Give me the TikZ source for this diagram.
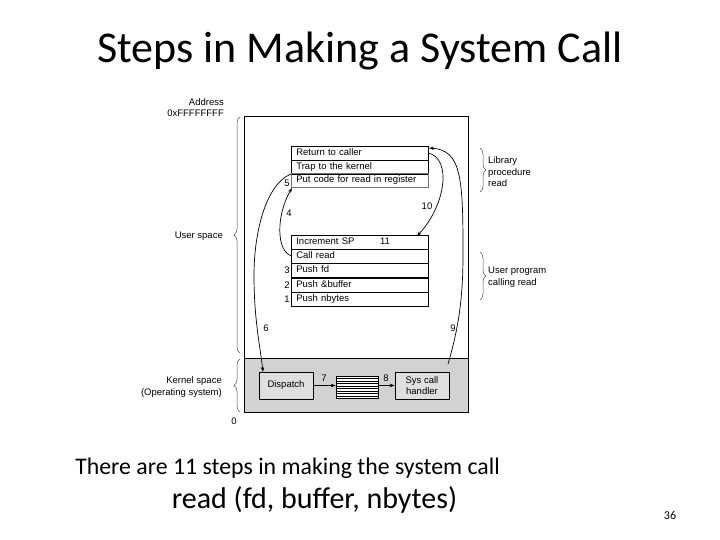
\documentclass[tikz,border=0pt]{standalone}
\usepackage{fontspec}
\setmainfont{Carlito}
\newfontfamily\dfont{Liberation Sans}
\usetikzlibrary{arrows.meta,decorations.pathreplacing}
\begin{document}
\begin{tikzpicture}[x=1pt,y=-1pt,
  dtext/.style={font=\dfont\fontsize{9.5}{11.5}\selectfont, inner sep=0pt},
  row/.style={dtext, draw, line width=0.7pt, anchor=north west, minimum height=14pt,
    text width=127pt, inner xsep=5pt, inner ysep=0pt, text height=7pt, text depth=2pt, align=left},
  kbox/.style={dtext, draw, line width=0.7pt, fill=gray!25, minimum width=54pt, minimum height=27pt, align=center},
  arr/.style={line width=0.7pt, -{Stealth[length=5pt,width=3.5pt]}},
  brace/.style={draw=black!70, line width=0.5pt, decorate, decoration={brace, amplitude=6pt}}
]
\useasboundingbox (0,0) rectangle (720,540);
% title
\node[font=\fontsize{44}{50}\selectfont, anchor=base] (title) at (360,63) {Steps in Making a System Call};
% memory box
\fill[gray!35] (244,358) rectangle (468,412);
\draw[line width=0.8pt] (244,116) rectangle (468,412);
\draw[line width=0.8pt] (244,358) -- (468,358);
% library rows
\node[row] (r1) at (291,146) {Return to caller};
\node[row] (r2) at (291,160) {Trap to the kernel};
\node[row, draw=black!55] (r3) at (291,173) {Put code for read in register};
% user program rows
\node[row] (u1) at (291,235) {Increment SP};
\node[row] (u2) at (291,249) {Call read};
\node[row] (u3) at (291,263) {Push fd};
\node[row] (u4) at (291,277.5) {Push \&buffer};
\node[row] (u5) at (291,292) {Push nbytes};
% kernel boxes
\node[kbox] (disp) at (286,385.5) {Dispatch};
\node[kbox] (sys) at (422,385.5) {Sys call\\handler};
\node[draw, line width=0.7pt, fill=white, minimum width=42pt, minimum height=22pt, inner sep=0pt] (tab) at (357,387) {};
\foreach \yy in {379,381.5,384,386.5,389,391.5,394,396.5}
  \draw[line width=0.5pt] ([yshift=-(\yy-376)*1pt]tab.north west) -- ([yshift=-(\yy-376)*1pt]tab.north east);
% labels of steps
\node[dtext] (n5) at (287,183) {5};
\node[dtext] (n3) at (287,270) {3};
\node[dtext] (n2) at (287,285) {2};
\node[dtext] (n1) at (287,299) {1};
\node[dtext] (n11) at (385,241) {11};
\node[dtext] (n4) at (289,213) {4};
\node[dtext] (n10) at (427,206) {10};
\node[dtext] (n6) at (266,328) {6};
\node[dtext] (n9) at (453,328) {9};
\node[dtext] (n7) at (324,378) {7};
\node[dtext] (n8) at (386,378) {8};
% arrows
\coordinate (a4s) at (292,256);
\coordinate (a4e) at (292,188);
\draw[arr] (a4s) .. controls (276,252) and (276,215) .. (a4e);
\coordinate (a6s) at (291,174);
\coordinate (a6m) at (254,275);
\coordinate (a6e) at (263,372);
\draw[arr] (a6s) .. controls (266,184) and (254,232) .. (a6m) .. controls (254,320) and (260,345) .. (a6e);
\coordinate (a9s) at (448,364);
\coordinate (a9m) at (463,255);
\coordinate (a9e) at (429,148);
\draw[arr] (a9s) .. controls (458,330) and (463,300) .. (a9m) .. controls (463,180) and (462,150) .. (a9e);
\coordinate (a10s) at (428,153);
\coordinate (a10e) at (417,236);
\draw[arr] (a10s) .. controls (452,158) and (446,205) .. (a10e);
\draw[arr] (disp.east) -- (tab.west |- disp.east);
\draw[arr] (tab.east |- sys.west) -- (sys.west);
% left annotations
\node[dtext, anchor=south east, align=right] (addr) at (224,117) {Address\\0xFFFFFFFF};
\draw[brace] (240,353) -- (240,117);
\node[dtext, anchor=east] (us) at (223,236) {User space};
\draw[brace] (240,412) -- (240,359);
\node[dtext, anchor=east, align=right] (ks) at (222,387) {Kernel space\\(Operating system)};
\node[dtext] (zero) at (234,421) {0};
% right annotations
\draw[brace] (480,148) -- (480,192);
\node[dtext, anchor=west, align=left] (lib) at (488,172) {Library\\procedure\\read};
\draw[brace] (480,252) -- (480,300);
\node[dtext, anchor=west, align=left] (upr) at (488,277) {User program\\calling read};
% bottom text
\node[font=\fontsize{23.8}{28}\selectfont, anchor=base] (t1) at (287.5,474) {There are 11 steps in making the system call};
\node[font=\fontsize{30}{34}\selectfont, anchor=base] (t2) at (314.5,508) {read (fd, buffer, nbytes)};
\node[font=\fontsize{12}{14}\selectfont, anchor=base] (pg) at (670,519) {36};
\end{tikzpicture}
\end{document}
